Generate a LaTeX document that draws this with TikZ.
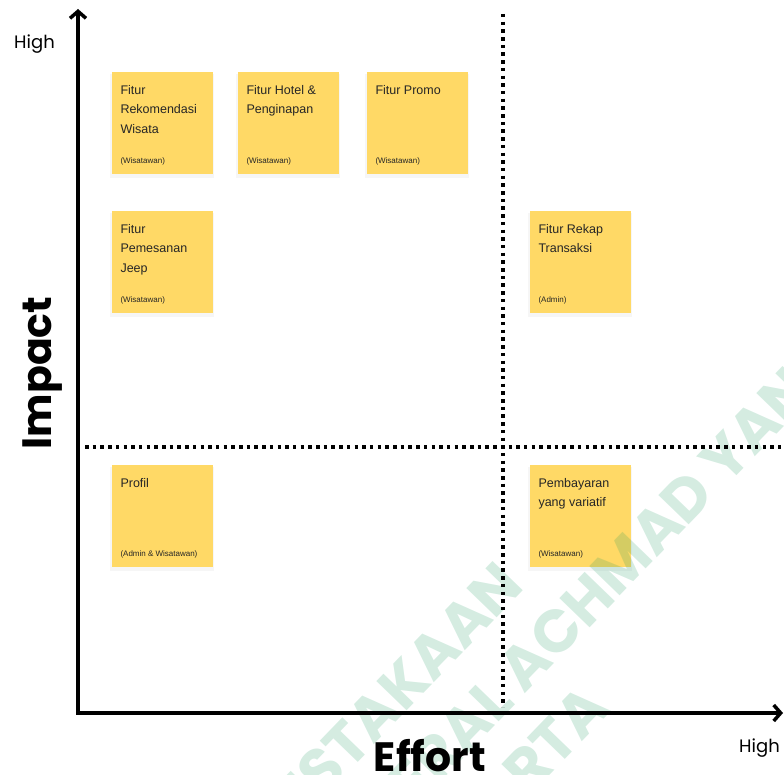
\documentclass[tikz,border=0pt]{standalone}
\usepackage{fontspec}
\setmainfont{Liberation Sans}
\newfontfamily\axisfont{Poppins}
\usepackage{tikz}
\usetikzlibrary{calc}
\usetikzlibrary{positioning}
\usetikzlibrary{arrows.meta}
\usetikzlibrary{shadows}
\definecolor{stickyyellow}{RGB}{255,217,102}
\definecolor{wmgreen}{RGB}{20,150,90}
\tikzset{note/.style={rectangle,fill=stickyyellow,minimum width=101pt,minimum height=102pt,inner sep=0pt,drop shadow={opacity=0.07,shadow xshift=0pt,shadow yshift=-2.5pt,shadow scale=1.02}}}
\tikzset{notetitle/.style={anchor=north west,inner sep=0pt,align=left,font=\fontsize{12.5}{19.5}\selectfont,text=black!85}}
\tikzset{noterole/.style={anchor=base west,inner sep=0pt,font=\fontsize{8}{9}\selectfont,text=black!85}}
\tikzset{axis/.style={line width=3.5pt,line join=miter,{Straight Barb[length=7pt,width=16pt]}-{Straight Barb[length=7pt,width=16pt]}}}
\tikzset{divider/.style={line width=3.5pt,dash pattern=on 3.5pt off 4.2pt}}
\tikzset{watermark/.style={rotate=46,inner sep=0pt,text=wmgreen,text opacity=0.18,font=\axisfont\bfseries\fontsize{60}{60}\selectfont}}
\newcommand\sticky[4]{
	\node[note] (#1) at (#2) {};
	\node[notetitle] (#1-title) at ($(#1.north west)+(9,13)$) {#3};
	\node[noterole] (#1-role) at ($(#1.south west)+(9,-11)$) {#4};
}

\begin{document}
\begin{tikzpicture}[x=1pt,y=-1pt]
		\useasboundingbox (0,0) rectangle (784,775);
		% sticky notes
		\sticky{rekom}{162,123}{Fitur\\Rekomendasi\\Wisata}{(Wisatawan)}
		\sticky{hotel}{288,123}{Fitur Hotel \&\\Penginapan}{(Wisatawan)}
		\sticky{promo}{417,123}{Fitur Promo}{(Wisatawan)}
		\sticky{jeep}{162,262}{Fitur\\Pemesanan\\Jeep}{(Wisatawan)}
		\sticky{rekap}{580,262}{Fitur Rekap\\Transaksi}{(Admin)}
		\sticky{profil}{162,516}{Profil}{(Admin \& Wisatawan)}
		\sticky{bayar}{580,516}{Pembayaran\\yang variatif}{(Wisatawan)}
		% watermark
		\begin{scope}
			\clip (0,0) rectangle (784,775);
			\node[watermark] (wm1) at (511,573) {\llap{PERPUSTAKAAN}};
			\node[watermark] (wm2) at (702,481) {\llap{UNIVERSITAS JENDERAL ACHMAD}\rlap{ YANI}};
			\node[watermark] (wm3) at (597,696) {\llap{YOGYAKARTA}};
		\end{scope}
		% quadrant dividers
		\coordinate (vtop) at (503,14);
		\coordinate (vbot) at (503,707);
		\coordinate (hleft) at (85,447);
		\coordinate (hright) at (781,447);
		\draw[divider] (vtop) -- (vbot);
		\draw[divider] (hleft) -- (hright);
		% axes
		\coordinate (ytop) at (78,9);
		\coordinate (origin) at (78,713);
		\coordinate (xend) at (783,713);
		\draw[axis] (ytop) -- (origin) -- (xend);
		\node[font=\axisfont\fontsize{18}{18}\selectfont,anchor=base] (yhigh) at (34.5,49) {High};
		\node[font=\axisfont\fontsize{18}{18}\selectfont,anchor=base] (xhigh) at (759.5,752) {High};
		\node[font=\axisfont\bfseries\fontsize{41}{41}\selectfont,anchor=base] (effort) at (430,771) {Effort};
		\node[font=\axisfont\bfseries\fontsize{41}{41}\selectfont,rotate=90,anchor=base] (impact) at (51,373) {Impact};
	\end{tikzpicture}
\end{document}
